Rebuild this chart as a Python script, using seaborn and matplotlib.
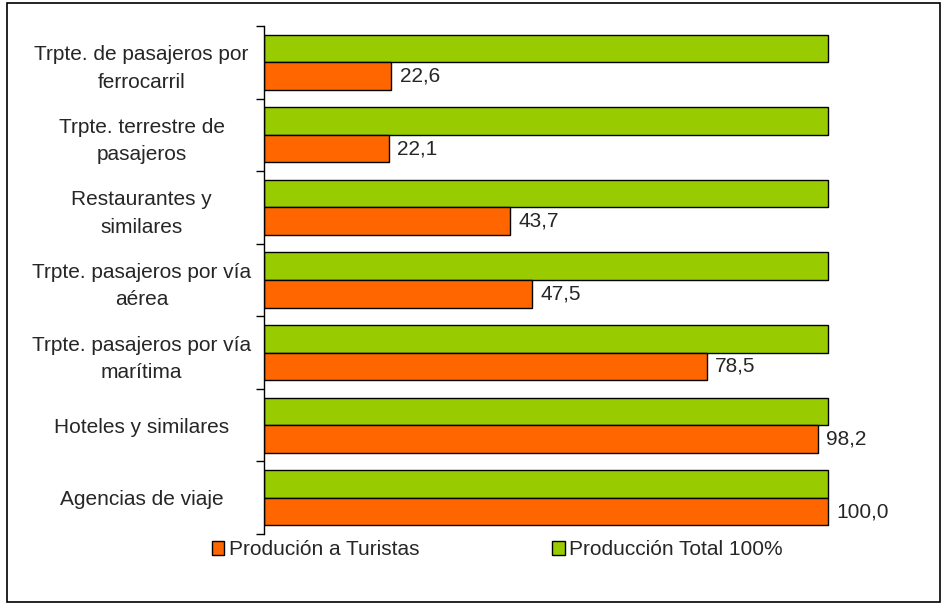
import matplotlib.pyplot as plt
import numpy as np
import pandas as pd
import seaborn as sn
from matplotlib.patches import Patch, Rectangle

categories = ['Trpte. de pasajeros por\nferrocarril',
              'Trpte. terrestre de\npasajeros',
              'Restaurantes y\nsimilares',
              'Trpte. pasajeros por vía\naérea',
              'Trpte. pasajeros por vía\nmarítima',
              'Hoteles y similares',
              'Agencias de viaje']
turistas = [22.6, 22.1, 43.7, 47.5, 78.5, 98.2, 100.0]
total = [100, 100, 100, 100, 100, 100, 100]
series_names = ['Produción a Turistas', 'Producción Total 100%']
colors = {'Produción a Turistas': '#FF6600', 'Producción Total 100%': '#99CC00'}

df = pd.DataFrame({
    'cat': categories * 2,
    'value': total + turistas,
    'serie': [series_names[1]] * len(categories) + [series_names[0]] * len(categories),
})

sn.set_style('white')
plt.rcParams['font.family'] = ['Liberation Sans', 'DejaVu Sans']

fig = plt.figure(figsize=(9.49, 6.11), dpi=100)
ax = fig.add_axes([0.278, 0.126, 0.654, 0.8314])

sn.barplot(data=df, y='cat', x='value', hue='serie', orient='h',
           hue_order=[series_names[1], series_names[0]], order=categories,
           palette=colors, saturation=1, edgecolor='black', linewidth=1, width=0.76,
           legend=False, ax=ax)

# value labels only on the tourists bars (second hue level)
labels = [f'{v:.1f}'.replace('.', ',') for v in turistas]
ax.bar_label(ax.containers[1], labels=labels, padding=6, fontsize=15)

ax.set_xlim(0, 110)
ax.set_ylim(len(categories) - 0.5, -0.5)
ax.set_xlabel('')
ax.set_ylabel('')
ax.set_xticks([])
for side in ['top', 'right', 'bottom']:
    ax.spines[side].set_visible(False)
ax.spines['left'].set_color('black')
ax.spines['left'].set_linewidth(1)

ax.set_yticks(np.arange(len(categories)))
ax.set_yticklabels(categories, fontsize=15, ha='center', multialignment='center', linespacing=1.55)
ax.tick_params(axis='y', which='major', length=0, pad=88)
ax.set_yticks(np.arange(len(categories) + 1) - 0.5, minor=True)
ax.tick_params(axis='y', which='minor', length=6, width=1, color='black', direction='out', left=True)

handles = [Patch(facecolor=colors[s], edgecolor='black', linewidth=1) for s in series_names]
fig.legend(handles, series_names, loc='center', bbox_to_anchor=(0.524, 0.1), ncol=2,
           frameon=False, fontsize=15, handlelength=0.6, handleheight=0.6,
           handletextpad=0.2, columnspacing=6.4)

fig.add_artist(Rectangle((7 / 949, 9 / 611), 933 / 949, 599 / 611, transform=fig.transFigure,
                         fill=False, edgecolor='black', linewidth=1.2))

fig.savefig('out.png', dpi=100)
